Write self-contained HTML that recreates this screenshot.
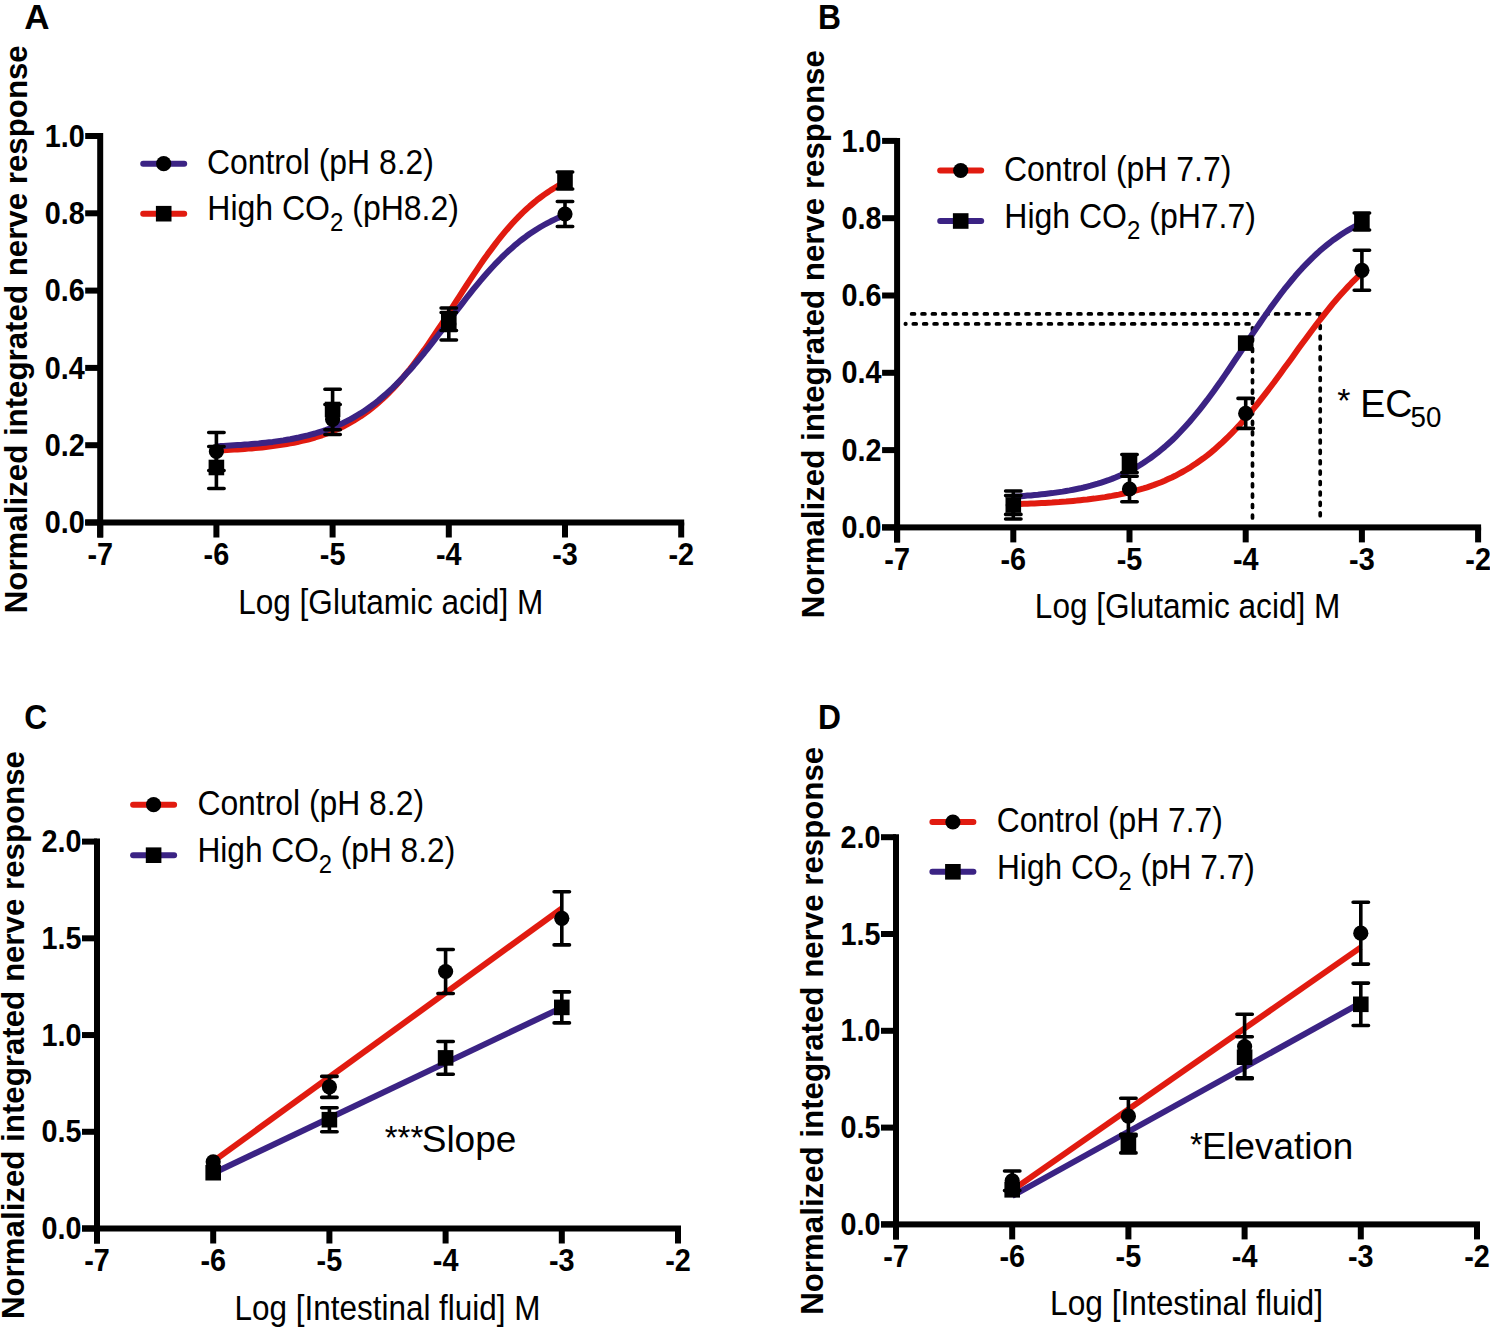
<!DOCTYPE html><html><head><meta charset="utf-8"><style>html,body{margin:0;padding:0;background:#fff;}svg{display:block;}text{font-family:"Liberation Sans",sans-serif;fill:#000;}</style></head><body>
<svg width="1490" height="1328" viewBox="0 0 1490 1328">
<rect width="1490" height="1328" fill="#fff"/>
<g id="pA">
<text transform="translate(24.3,29.2) scale(1.03,1.045)" font-size="34" font-weight="bold">A</text>
<text transform="translate(26.7,329.25) rotate(-90)" text-anchor="middle" font-size="32" font-weight="bold" textLength="568" lengthAdjust="spacingAndGlyphs">Normalized integrated nerve response</text>
<path d="M97.2 133H103.2V537.5H97.2Z" fill="#000"/>
<rect x="85.2" y="519.5" width="599" height="6" fill="#000"/>
<rect x="85.2" y="519.5" width="15" height="6" fill="#000"/>
<text transform="translate(84.7,533.1)" font-size="31" font-weight="bold" text-anchor="end" textLength="40" lengthAdjust="spacingAndGlyphs">0.0</text>
<rect x="85.2" y="442.2" width="15" height="6" fill="#000"/>
<text transform="translate(84.7,455.8)" font-size="31" font-weight="bold" text-anchor="end" textLength="40" lengthAdjust="spacingAndGlyphs">0.2</text>
<rect x="85.2" y="364.9" width="15" height="6" fill="#000"/>
<text transform="translate(84.7,378.5)" font-size="31" font-weight="bold" text-anchor="end" textLength="40" lengthAdjust="spacingAndGlyphs">0.4</text>
<rect x="85.2" y="287.6" width="15" height="6" fill="#000"/>
<text transform="translate(84.7,301.2)" font-size="31" font-weight="bold" text-anchor="end" textLength="40" lengthAdjust="spacingAndGlyphs">0.6</text>
<rect x="85.2" y="210.3" width="15" height="6" fill="#000"/>
<text transform="translate(84.7,223.9)" font-size="31" font-weight="bold" text-anchor="end" textLength="40" lengthAdjust="spacingAndGlyphs">0.8</text>
<rect x="85.2" y="133" width="15" height="6" fill="#000"/>
<text transform="translate(84.7,146.6)" font-size="31" font-weight="bold" text-anchor="end" textLength="40" lengthAdjust="spacingAndGlyphs">1.0</text>
<rect x="97.2" y="522.5" width="6" height="15" fill="#000"/>
<text transform="translate(100.2,565.1) scale(0.93,1.0)" font-size="31" font-weight="bold" text-anchor="middle">-7</text>
<rect x="213.4" y="522.5" width="6" height="15" fill="#000"/>
<text transform="translate(216.4,565.1) scale(0.93,1.0)" font-size="31" font-weight="bold" text-anchor="middle">-6</text>
<rect x="329.6" y="522.5" width="6" height="15" fill="#000"/>
<text transform="translate(332.6,565.1) scale(0.93,1.0)" font-size="31" font-weight="bold" text-anchor="middle">-5</text>
<rect x="445.8" y="522.5" width="6" height="15" fill="#000"/>
<text transform="translate(448.8,565.1) scale(0.93,1.0)" font-size="31" font-weight="bold" text-anchor="middle">-4</text>
<rect x="562" y="522.5" width="6" height="15" fill="#000"/>
<text transform="translate(565,565.1) scale(0.93,1.0)" font-size="31" font-weight="bold" text-anchor="middle">-3</text>
<rect x="678.2" y="522.5" width="6" height="15" fill="#000"/>
<text transform="translate(681.2,565.1) scale(0.93,1.0)" font-size="31" font-weight="bold" text-anchor="middle">-2</text>
<text transform="translate(390.7,613.5) scale(1.0,1.09)" font-size="31.5" text-anchor="middle" textLength="305" lengthAdjust="spacingAndGlyphs">Log [Glutamic acid] M</text>
<line x1="143.2" y1="163.7" x2="184.2" y2="163.7" stroke="#3b2384" stroke-width="6" stroke-linecap="round"/>
<circle cx="163.7" cy="163.7" r="7.6" fill="#000"/>
<text transform="translate(207,173.8) scale(1.0,1.09)" font-size="32" textLength="226.9" lengthAdjust="spacingAndGlyphs">Control (pH 8.2)</text>
<line x1="143.2" y1="213.7" x2="184.2" y2="213.7" stroke="#e11b10" stroke-width="6" stroke-linecap="round"/>
<rect x="155.9" y="205.9" width="15.6" height="15.6" fill="#000"/>
<text transform="translate(207.3,220) scale(1.0,1.09)" font-size="32">High CO<tspan font-size="24" dy="9.8">2</tspan><tspan dy="-9.8"> (pH8.2)</tspan></text>
<path d="M216.4 450.5 L219.9 450.3 L223.4 450.2 L227.0 450.0 L230.5 449.8 L234.0 449.6 L237.5 449.4 L241.0 449.2 L244.6 448.9 L248.1 448.6 L251.6 448.4 L255.1 448.0 L258.7 447.7 L262.2 447.4 L265.7 447.0 L269.2 446.6 L272.7 446.1 L276.3 445.6 L279.8 445.1 L283.3 444.6 L286.8 444.0 L290.3 443.4 L293.9 442.7 L297.4 442.0 L300.9 441.2 L304.4 440.4 L308.0 439.5 L311.5 438.5 L315.0 437.5 L318.5 436.4 L322.0 435.3 L325.6 434.0 L329.1 432.7 L332.6 431.3 L336.1 429.8 L339.6 428.2 L343.2 426.5 L346.7 424.7 L350.2 422.7 L353.7 420.7 L357.2 418.5 L360.8 416.3 L364.3 413.8 L367.8 411.3 L371.3 408.6 L374.9 405.7 L378.4 402.7 L381.9 399.6 L385.4 396.3 L388.9 392.8 L392.5 389.2 L396.0 385.4 L399.5 381.5 L403.0 377.4 L406.5 373.2 L410.1 368.8 L413.6 364.3 L417.1 359.6 L420.6 354.8 L424.2 349.9 L427.7 344.9 L431.2 339.7 L434.7 334.5 L438.2 329.2 L441.8 323.8 L445.3 318.4 L448.8 312.9 L452.3 307.4 L455.8 301.9 L459.4 296.4 L462.9 290.9 L466.4 285.5 L469.9 280.1 L473.4 274.8 L477.0 269.6 L480.5 264.4 L484.0 259.3 L487.5 254.4 L491.1 249.6 L494.6 244.9 L498.1 240.3 L501.6 235.9 L505.1 231.7 L508.7 227.5 L512.2 223.6 L515.7 219.8 L519.2 216.1 L522.7 212.6 L526.3 209.3 L529.8 206.1 L533.3 203.1 L536.8 200.2 L540.4 197.5 L543.9 194.9 L547.4 192.5 L550.9 190.1 L554.4 188.0 L558.0 185.9 L561.5 183.9 L565.0 182.1" fill="none" stroke="#e11b10" stroke-width="6" stroke-linejoin="round"/>
<path d="M216.4 446.2 L219.9 446.1 L223.4 445.9 L227.0 445.7 L230.5 445.5 L234.0 445.3 L237.5 445.1 L241.0 444.9 L244.6 444.6 L248.1 444.4 L251.6 444.1 L255.1 443.8 L258.7 443.5 L262.2 443.1 L265.7 442.7 L269.2 442.3 L272.7 441.9 L276.3 441.4 L279.8 440.9 L283.3 440.4 L286.8 439.8 L290.3 439.2 L293.9 438.5 L297.4 437.8 L300.9 437.0 L304.4 436.2 L308.0 435.4 L311.5 434.4 L315.0 433.5 L318.5 432.4 L322.0 431.3 L325.6 430.1 L329.1 428.8 L332.6 427.5 L336.1 426.0 L339.6 424.5 L343.2 422.9 L346.7 421.1 L350.2 419.3 L353.7 417.4 L357.2 415.3 L360.8 413.2 L364.3 410.9 L367.8 408.5 L371.3 406.0 L374.9 403.3 L378.4 400.6 L381.9 397.6 L385.4 394.6 L388.9 391.4 L392.5 388.1 L396.0 384.7 L399.5 381.1 L403.0 377.5 L406.5 373.6 L410.1 369.7 L413.6 365.7 L417.1 361.5 L420.6 357.3 L424.2 353.0 L427.7 348.6 L431.2 344.1 L434.7 339.6 L438.2 335.0 L441.8 330.4 L445.3 325.7 L448.8 321.1 L452.3 316.4 L455.8 311.8 L459.4 307.1 L462.9 302.6 L466.4 298.0 L469.9 293.6 L473.4 289.2 L477.0 284.8 L480.5 280.6 L484.0 276.5 L487.5 272.5 L491.1 268.5 L494.6 264.7 L498.1 261.1 L501.6 257.5 L505.1 254.1 L508.7 250.8 L512.2 247.7 L515.7 244.6 L519.2 241.7 L522.7 239.0 L526.3 236.3 L529.8 233.8 L533.3 231.5 L536.8 229.2 L540.4 227.0 L543.9 225.0 L547.4 223.1 L550.9 221.3 L554.4 219.6 L558.0 217.9 L561.5 216.4 L565.0 215.0" fill="none" stroke="#3b2384" stroke-width="6" stroke-linejoin="round"/>
<path d="M216.4 432.5V470.5M208.7 432.5H224.1M208.7 470.5H224.1" stroke="#000" stroke-width="3.6" stroke-linecap="round" fill="none"/>
<circle cx="216.4" cy="451.5" r="7.6" fill="#000"/>
<path d="M332.6 404.5V434.5M324.9 404.5H340.3M324.9 434.5H340.3" stroke="#000" stroke-width="3.6" stroke-linecap="round" fill="none"/>
<circle cx="332.6" cy="419.5" r="7.6" fill="#000"/>
<path d="M448.8 308V340M441.1 308H456.5M441.1 340H456.5" stroke="#000" stroke-width="3.6" stroke-linecap="round" fill="none"/>
<circle cx="448.8" cy="324" r="7.6" fill="#000"/>
<path d="M565 201.5V226.5M557.3 201.5H572.7M557.3 226.5H572.7" stroke="#000" stroke-width="3.6" stroke-linecap="round" fill="none"/>
<circle cx="565" cy="214" r="7.6" fill="#000"/>
<path d="M216.4 446.5V488.5M208.7 446.5H224.1M208.7 488.5H224.1" stroke="#000" stroke-width="3.6" stroke-linecap="round" fill="none"/>
<rect x="208.6" y="459.7" width="15.6" height="15.6" fill="#000"/>
<path d="M332.6 389.2V429.8M324.9 389.2H340.3M324.9 429.8H340.3" stroke="#000" stroke-width="3.6" stroke-linecap="round" fill="none"/>
<rect x="324.8" y="401.7" width="15.6" height="15.6" fill="#000"/>
<path d="M448.8 312.5V330.5M441.1 312.5H456.5M441.1 330.5H456.5" stroke="#000" stroke-width="3.6" stroke-linecap="round" fill="none"/>
<rect x="441" y="313.7" width="15.6" height="15.6" fill="#000"/>
<path d="M565 172V189M557.3 172H572.7M557.3 189H572.7" stroke="#000" stroke-width="3.6" stroke-linecap="round" fill="none"/>
<rect x="557.2" y="172.7" width="15.6" height="15.6" fill="#000"/>
</g>
<g id="pB">
<text transform="translate(818,29.3) scale(0.935,1.045)" font-size="34" font-weight="bold">B</text>
<text transform="translate(823.6,334.15) rotate(-90)" text-anchor="middle" font-size="32" font-weight="bold" textLength="568" lengthAdjust="spacingAndGlyphs">Normalized integrated nerve response</text>
<path d="M894.1 137.9H900.1V542.4H894.1Z" fill="#000"/>
<rect x="882.1" y="524.4" width="599" height="6" fill="#000"/>
<rect x="882.1" y="524.4" width="15" height="6" fill="#000"/>
<text transform="translate(881.6,538)" font-size="31" font-weight="bold" text-anchor="end" textLength="40" lengthAdjust="spacingAndGlyphs">0.0</text>
<rect x="882.1" y="447.1" width="15" height="6" fill="#000"/>
<text transform="translate(881.6,460.7)" font-size="31" font-weight="bold" text-anchor="end" textLength="40" lengthAdjust="spacingAndGlyphs">0.2</text>
<rect x="882.1" y="369.8" width="15" height="6" fill="#000"/>
<text transform="translate(881.6,383.4)" font-size="31" font-weight="bold" text-anchor="end" textLength="40" lengthAdjust="spacingAndGlyphs">0.4</text>
<rect x="882.1" y="292.5" width="15" height="6" fill="#000"/>
<text transform="translate(881.6,306.1)" font-size="31" font-weight="bold" text-anchor="end" textLength="40" lengthAdjust="spacingAndGlyphs">0.6</text>
<rect x="882.1" y="215.2" width="15" height="6" fill="#000"/>
<text transform="translate(881.6,228.8)" font-size="31" font-weight="bold" text-anchor="end" textLength="40" lengthAdjust="spacingAndGlyphs">0.8</text>
<rect x="882.1" y="137.9" width="15" height="6" fill="#000"/>
<text transform="translate(881.6,151.5)" font-size="31" font-weight="bold" text-anchor="end" textLength="40" lengthAdjust="spacingAndGlyphs">1.0</text>
<rect x="894.1" y="527.4" width="6" height="15" fill="#000"/>
<text transform="translate(897.1,570) scale(0.93,1.0)" font-size="31" font-weight="bold" text-anchor="middle">-7</text>
<rect x="1010.3" y="527.4" width="6" height="15" fill="#000"/>
<text transform="translate(1013.3,570) scale(0.93,1.0)" font-size="31" font-weight="bold" text-anchor="middle">-6</text>
<rect x="1126.5" y="527.4" width="6" height="15" fill="#000"/>
<text transform="translate(1129.5,570) scale(0.93,1.0)" font-size="31" font-weight="bold" text-anchor="middle">-5</text>
<rect x="1242.7" y="527.4" width="6" height="15" fill="#000"/>
<text transform="translate(1245.7,570) scale(0.93,1.0)" font-size="31" font-weight="bold" text-anchor="middle">-4</text>
<rect x="1358.9" y="527.4" width="6" height="15" fill="#000"/>
<text transform="translate(1361.9,570) scale(0.93,1.0)" font-size="31" font-weight="bold" text-anchor="middle">-3</text>
<rect x="1475.1" y="527.4" width="6" height="15" fill="#000"/>
<text transform="translate(1478.1,570) scale(0.93,1.0)" font-size="31" font-weight="bold" text-anchor="middle">-2</text>
<text transform="translate(1187.6,618.4) scale(1.0,1.09)" font-size="31.5" text-anchor="middle" textLength="305.5" lengthAdjust="spacingAndGlyphs">Log [Glutamic acid] M</text>
<line x1="940.2" y1="170.5" x2="981.2" y2="170.5" stroke="#e11b10" stroke-width="6" stroke-linecap="round"/>
<circle cx="960.7" cy="170.5" r="7.6" fill="#000"/>
<text transform="translate(1004,181.1) scale(1.0,1.09)" font-size="32" textLength="227.4" lengthAdjust="spacingAndGlyphs">Control (pH 7.7)</text>
<line x1="940.2" y1="221" x2="981.2" y2="221" stroke="#3b2384" stroke-width="6" stroke-linecap="round"/>
<rect x="952.9" y="213.2" width="15.6" height="15.6" fill="#000"/>
<text transform="translate(1004.3,228.1) scale(1.0,1.09)" font-size="32">High CO<tspan font-size="24" dy="9.8">2</tspan><tspan dy="-9.8"> (pH7.7)</tspan></text>
<path d="M911.6 313.9H1320.3" stroke="#000" stroke-width="3.7" stroke-dasharray="2.9 7.5" stroke-linecap="round" fill="none"/>
<path d="M913.3 323.9H1251.8" stroke="#000" stroke-width="3.7" stroke-dasharray="2.9 7.5" stroke-linecap="round" fill="none"/>
<circle cx="905.6" cy="323.9" r="2.1" fill="#000"/>
<path d="M1252.5 517.9V324" stroke="#000" stroke-width="3.7" stroke-dasharray="2.9 7.5" stroke-linecap="round" fill="none"/>
<path d="M1320.2 515.7V314" stroke="#000" stroke-width="3.7" stroke-dasharray="2.9 7.5" stroke-linecap="round" fill="none"/>
<text transform="translate(1337.3,411.9)" font-size="34">*</text>
<text transform="translate(1360.2,416.5) scale(1.0,1.01)" font-size="37.6">EC</text>
<text transform="translate(1410.6,426.8) scale(1.0,1.06)" font-size="27.7">50</text>
<path d="M1013.3 504.1 L1016.8 504.0 L1020.3 503.9 L1023.9 503.8 L1027.4 503.7 L1030.9 503.5 L1034.4 503.4 L1037.9 503.2 L1041.5 503.0 L1045.0 502.9 L1048.5 502.7 L1052.0 502.5 L1055.6 502.2 L1059.1 502.0 L1062.6 501.7 L1066.1 501.5 L1069.6 501.2 L1073.2 500.9 L1076.7 500.6 L1080.2 500.2 L1083.7 499.8 L1087.2 499.5 L1090.8 499.0 L1094.3 498.6 L1097.8 498.1 L1101.3 497.6 L1104.9 497.1 L1108.4 496.5 L1111.9 495.9 L1115.4 495.2 L1118.9 494.6 L1122.5 493.8 L1126.0 493.1 L1129.5 492.2 L1133.0 491.3 L1136.5 490.4 L1140.1 489.4 L1143.6 488.4 L1147.1 487.3 L1150.6 486.1 L1154.1 484.9 L1157.7 483.5 L1161.2 482.2 L1164.7 480.7 L1168.2 479.1 L1171.8 477.5 L1175.3 475.8 L1178.8 473.9 L1182.3 472.0 L1185.8 470.0 L1189.4 467.9 L1192.9 465.6 L1196.4 463.3 L1199.9 460.8 L1203.4 458.3 L1207.0 455.6 L1210.5 452.8 L1214.0 449.9 L1217.5 446.8 L1221.1 443.6 L1224.6 440.3 L1228.1 436.9 L1231.6 433.4 L1235.1 429.7 L1238.7 425.9 L1242.2 422.0 L1245.7 418.0 L1249.2 413.9 L1252.7 409.7 L1256.3 405.4 L1259.8 400.9 L1263.3 396.4 L1266.8 391.9 L1270.3 387.2 L1273.9 382.5 L1277.4 377.7 L1280.9 372.9 L1284.4 368.1 L1288.0 363.2 L1291.5 358.4 L1295.0 353.5 L1298.5 348.6 L1302.0 343.8 L1305.6 339.0 L1309.1 334.2 L1312.6 329.5 L1316.1 324.9 L1319.6 320.3 L1323.2 315.8 L1326.7 311.3 L1330.2 307.0 L1333.7 302.7 L1337.3 298.6 L1340.8 294.6 L1344.3 290.7 L1347.8 286.9 L1351.3 283.2 L1354.9 279.6 L1358.4 276.2 L1361.9 272.9" fill="none" stroke="#e11b10" stroke-width="6" stroke-linejoin="round"/>
<path d="M1013.3 496.7 L1016.8 496.4 L1020.3 496.2 L1023.9 495.9 L1027.4 495.6 L1030.9 495.4 L1034.4 495.0 L1037.9 494.7 L1041.5 494.3 L1045.0 493.9 L1048.5 493.5 L1052.0 493.1 L1055.6 492.6 L1059.1 492.1 L1062.6 491.6 L1066.1 491.0 L1069.6 490.4 L1073.2 489.7 L1076.7 489.0 L1080.2 488.3 L1083.7 487.5 L1087.2 486.6 L1090.8 485.7 L1094.3 484.7 L1097.8 483.7 L1101.3 482.6 L1104.9 481.4 L1108.4 480.2 L1111.9 478.9 L1115.4 477.5 L1118.9 476.0 L1122.5 474.4 L1126.0 472.7 L1129.5 470.9 L1133.0 469.1 L1136.5 467.1 L1140.1 465.0 L1143.6 462.8 L1147.1 460.4 L1150.6 458.0 L1154.1 455.4 L1157.7 452.7 L1161.2 449.8 L1164.7 446.9 L1168.2 443.7 L1171.8 440.5 L1175.3 437.1 L1178.8 433.5 L1182.3 429.8 L1185.8 426.0 L1189.4 422.0 L1192.9 417.9 L1196.4 413.7 L1199.9 409.3 L1203.4 404.8 L1207.0 400.2 L1210.5 395.5 L1214.0 390.7 L1217.5 385.7 L1221.1 380.7 L1224.6 375.6 L1228.1 370.5 L1231.6 365.3 L1235.1 360.0 L1238.7 354.8 L1242.2 349.5 L1245.7 344.2 L1249.2 338.9 L1252.7 333.6 L1256.3 328.4 L1259.8 323.2 L1263.3 318.1 L1266.8 313.1 L1270.3 308.1 L1273.9 303.2 L1277.4 298.5 L1280.9 293.8 L1284.4 289.2 L1288.0 284.8 L1291.5 280.5 L1295.0 276.3 L1298.5 272.3 L1302.0 268.4 L1305.6 264.7 L1309.1 261.1 L1312.6 257.6 L1316.1 254.3 L1319.6 251.1 L1323.2 248.0 L1326.7 245.1 L1330.2 242.3 L1333.7 239.7 L1337.3 237.2 L1340.8 234.8 L1344.3 232.5 L1347.8 230.4 L1351.3 228.4 L1354.9 226.4 L1358.4 224.6 L1361.9 222.9" fill="none" stroke="#3b2384" stroke-width="6" stroke-linejoin="round"/>
<path d="M1013.3 491V519M1005.6 491H1021M1005.6 519H1021" stroke="#000" stroke-width="3.6" stroke-linecap="round" fill="none"/>
<circle cx="1013.3" cy="505" r="7.6" fill="#000"/>
<path d="M1129.5 476.2V501.8M1121.8 476.2H1137.2M1121.8 501.8H1137.2" stroke="#000" stroke-width="3.6" stroke-linecap="round" fill="none"/>
<circle cx="1129.5" cy="489" r="7.6" fill="#000"/>
<path d="M1245.7 398.4V428.4M1238 398.4H1253.4M1238 428.4H1253.4" stroke="#000" stroke-width="3.6" stroke-linecap="round" fill="none"/>
<circle cx="1245.7" cy="413.4" r="7.6" fill="#000"/>
<path d="M1361.9 250.3V290.3M1354.2 250.3H1369.6M1354.2 290.3H1369.6" stroke="#000" stroke-width="3.6" stroke-linecap="round" fill="none"/>
<circle cx="1361.9" cy="270.3" r="7.6" fill="#000"/>
<path d="M1013.3 495.6V514.4M1005.6 495.6H1021M1005.6 514.4H1021" stroke="#000" stroke-width="3.6" stroke-linecap="round" fill="none"/>
<rect x="1005.5" y="497.2" width="15.6" height="15.6" fill="#000"/>
<path d="M1129.5 454.5V472.5M1121.8 454.5H1137.2M1121.8 472.5H1137.2" stroke="#000" stroke-width="3.6" stroke-linecap="round" fill="none"/>
<rect x="1121.7" y="455.7" width="15.6" height="15.6" fill="#000"/>
<rect x="1237.9" y="335.3" width="15.6" height="15.6" fill="#000"/>
<path d="M1361.9 213V230M1354.2 213H1369.6M1354.2 230H1369.6" stroke="#000" stroke-width="3.6" stroke-linecap="round" fill="none"/>
<rect x="1354.1" y="213.7" width="15.6" height="15.6" fill="#000"/>
</g>
<g id="pC">
<text transform="translate(24.3,728.7) scale(0.935,1.045)" font-size="34" font-weight="bold">C</text>
<text transform="translate(23.5,1035.05) rotate(-90)" text-anchor="middle" font-size="32" font-weight="bold" textLength="568" lengthAdjust="spacingAndGlyphs">Normalized integrated nerve response</text>
<path d="M94 838.6H100V1243.5H94Z" fill="#000"/>
<rect x="82" y="1225.5" width="599" height="6" fill="#000"/>
<rect x="82" y="1225.5" width="15" height="6" fill="#000"/>
<text transform="translate(81.5,1239.1)" font-size="31" font-weight="bold" text-anchor="end" textLength="40" lengthAdjust="spacingAndGlyphs">0.0</text>
<rect x="82" y="1128.78" width="15" height="6" fill="#000"/>
<text transform="translate(81.5,1142.38)" font-size="31" font-weight="bold" text-anchor="end" textLength="40" lengthAdjust="spacingAndGlyphs">0.5</text>
<rect x="82" y="1032.05" width="15" height="6" fill="#000"/>
<text transform="translate(81.5,1045.65)" font-size="31" font-weight="bold" text-anchor="end" textLength="40" lengthAdjust="spacingAndGlyphs">1.0</text>
<rect x="82" y="935.33" width="15" height="6" fill="#000"/>
<text transform="translate(81.5,948.93)" font-size="31" font-weight="bold" text-anchor="end" textLength="40" lengthAdjust="spacingAndGlyphs">1.5</text>
<rect x="82" y="838.6" width="15" height="6" fill="#000"/>
<text transform="translate(81.5,852.2)" font-size="31" font-weight="bold" text-anchor="end" textLength="40" lengthAdjust="spacingAndGlyphs">2.0</text>
<rect x="94" y="1228.5" width="6" height="15" fill="#000"/>
<text transform="translate(97,1271.1) scale(0.93,1.0)" font-size="31" font-weight="bold" text-anchor="middle">-7</text>
<rect x="210.2" y="1228.5" width="6" height="15" fill="#000"/>
<text transform="translate(213.2,1271.1) scale(0.93,1.0)" font-size="31" font-weight="bold" text-anchor="middle">-6</text>
<rect x="326.4" y="1228.5" width="6" height="15" fill="#000"/>
<text transform="translate(329.4,1271.1) scale(0.93,1.0)" font-size="31" font-weight="bold" text-anchor="middle">-5</text>
<rect x="442.6" y="1228.5" width="6" height="15" fill="#000"/>
<text transform="translate(445.6,1271.1) scale(0.93,1.0)" font-size="31" font-weight="bold" text-anchor="middle">-4</text>
<rect x="558.8" y="1228.5" width="6" height="15" fill="#000"/>
<text transform="translate(561.8,1271.1) scale(0.93,1.0)" font-size="31" font-weight="bold" text-anchor="middle">-3</text>
<rect x="675" y="1228.5" width="6" height="15" fill="#000"/>
<text transform="translate(678,1271.1) scale(0.93,1.0)" font-size="31" font-weight="bold" text-anchor="middle">-2</text>
<text transform="translate(387.5,1319.5) scale(1.0,1.09)" font-size="31.5" text-anchor="middle" textLength="306" lengthAdjust="spacingAndGlyphs">Log [Intestinal fluid] M</text>
<line x1="133.1" y1="804.7" x2="174.1" y2="804.7" stroke="#e11b10" stroke-width="6" stroke-linecap="round"/>
<circle cx="153.6" cy="804.7" r="7.6" fill="#000"/>
<text transform="translate(197.4,815.2) scale(1.0,1.09)" font-size="32" textLength="226.6" lengthAdjust="spacingAndGlyphs">Control (pH 8.2)</text>
<line x1="133.1" y1="855.2" x2="174.1" y2="855.2" stroke="#3b2384" stroke-width="6" stroke-linecap="round"/>
<rect x="145.8" y="847.4" width="15.6" height="15.6" fill="#000"/>
<text transform="translate(197.4,862.2) scale(0.99,1.09)" font-size="32">High CO<tspan font-size="24" dy="9.8">2</tspan><tspan dy="-9.8"> (pH 8.2)</tspan></text>
<text transform="translate(384.7,1148.8)" font-size="33">***</text>
<text transform="translate(421.7,1151.7)" font-size="37">Slope</text>
<line x1="213.2" y1="1161.4" x2="561.8" y2="908.5" stroke="#e11b10" stroke-width="6"/>
<line x1="213.2" y1="1173.2" x2="561.8" y2="1007.6" stroke="#3b2384" stroke-width="6"/>
<circle cx="213.2" cy="1161.8" r="7.6" fill="#000"/>
<path d="M329.4 1076.4V1097.4M321.7 1076.4H337.1M321.7 1097.4H337.1" stroke="#000" stroke-width="3.6" stroke-linecap="round" fill="none"/>
<circle cx="329.4" cy="1086.9" r="7.6" fill="#000"/>
<path d="M445.6 949.5V993.5M437.9 949.5H453.3M437.9 993.5H453.3" stroke="#000" stroke-width="3.6" stroke-linecap="round" fill="none"/>
<circle cx="445.6" cy="971.5" r="7.6" fill="#000"/>
<path d="M561.8 891.7V944.9M554.1 891.7H569.5M554.1 944.9H569.5" stroke="#000" stroke-width="3.6" stroke-linecap="round" fill="none"/>
<circle cx="561.8" cy="918.3" r="7.6" fill="#000"/>
<rect x="205.4" y="1164.9" width="15.6" height="15.6" fill="#000"/>
<path d="M329.4 1107.7V1131.7M321.7 1107.7H337.1M321.7 1131.7H337.1" stroke="#000" stroke-width="3.6" stroke-linecap="round" fill="none"/>
<rect x="321.6" y="1111.9" width="15.6" height="15.6" fill="#000"/>
<path d="M445.6 1041.5V1074.3M437.9 1041.5H453.3M437.9 1074.3H453.3" stroke="#000" stroke-width="3.6" stroke-linecap="round" fill="none"/>
<rect x="437.8" y="1050.1" width="15.6" height="15.6" fill="#000"/>
<path d="M561.8 991.9V1022.9M554.1 991.9H569.5M554.1 1022.9H569.5" stroke="#000" stroke-width="3.6" stroke-linecap="round" fill="none"/>
<rect x="554" y="999.6" width="15.6" height="15.6" fill="#000"/>
</g>
<g id="pD">
<text transform="translate(818,728.7) scale(0.935,1.045)" font-size="34" font-weight="bold">D</text>
<text transform="translate(822.5,1030.8) rotate(-90)" text-anchor="middle" font-size="32" font-weight="bold" textLength="568" lengthAdjust="spacingAndGlyphs">Normalized integrated nerve response</text>
<path d="M893 834.2H899V1239.4H893Z" fill="#000"/>
<rect x="881" y="1221.4" width="599" height="6" fill="#000"/>
<rect x="881" y="1221.4" width="15" height="6" fill="#000"/>
<text transform="translate(880.5,1235)" font-size="31" font-weight="bold" text-anchor="end" textLength="40" lengthAdjust="spacingAndGlyphs">0.0</text>
<rect x="881" y="1124.6" width="15" height="6" fill="#000"/>
<text transform="translate(880.5,1138.2)" font-size="31" font-weight="bold" text-anchor="end" textLength="40" lengthAdjust="spacingAndGlyphs">0.5</text>
<rect x="881" y="1027.8" width="15" height="6" fill="#000"/>
<text transform="translate(880.5,1041.4)" font-size="31" font-weight="bold" text-anchor="end" textLength="40" lengthAdjust="spacingAndGlyphs">1.0</text>
<rect x="881" y="931" width="15" height="6" fill="#000"/>
<text transform="translate(880.5,944.6)" font-size="31" font-weight="bold" text-anchor="end" textLength="40" lengthAdjust="spacingAndGlyphs">1.5</text>
<rect x="881" y="834.2" width="15" height="6" fill="#000"/>
<text transform="translate(880.5,847.8)" font-size="31" font-weight="bold" text-anchor="end" textLength="40" lengthAdjust="spacingAndGlyphs">2.0</text>
<rect x="893" y="1224.4" width="6" height="15" fill="#000"/>
<text transform="translate(896,1267) scale(0.93,1.0)" font-size="31" font-weight="bold" text-anchor="middle">-7</text>
<rect x="1009.2" y="1224.4" width="6" height="15" fill="#000"/>
<text transform="translate(1012.2,1267) scale(0.93,1.0)" font-size="31" font-weight="bold" text-anchor="middle">-6</text>
<rect x="1125.4" y="1224.4" width="6" height="15" fill="#000"/>
<text transform="translate(1128.4,1267) scale(0.93,1.0)" font-size="31" font-weight="bold" text-anchor="middle">-5</text>
<rect x="1241.6" y="1224.4" width="6" height="15" fill="#000"/>
<text transform="translate(1244.6,1267) scale(0.93,1.0)" font-size="31" font-weight="bold" text-anchor="middle">-4</text>
<rect x="1357.8" y="1224.4" width="6" height="15" fill="#000"/>
<text transform="translate(1360.8,1267) scale(0.93,1.0)" font-size="31" font-weight="bold" text-anchor="middle">-3</text>
<rect x="1474" y="1224.4" width="6" height="15" fill="#000"/>
<text transform="translate(1477,1267) scale(0.93,1.0)" font-size="31" font-weight="bold" text-anchor="middle">-2</text>
<text transform="translate(1186.5,1315.4) scale(1.0,1.09)" font-size="31.5" text-anchor="middle" textLength="273" lengthAdjust="spacingAndGlyphs">Log [Intestinal fluid]</text>
<line x1="932.4" y1="822" x2="973.4" y2="822" stroke="#e11b10" stroke-width="6" stroke-linecap="round"/>
<circle cx="952.9" cy="822" r="7.6" fill="#000"/>
<text transform="translate(996.7,832.1) scale(1.0,1.09)" font-size="32" textLength="226.2" lengthAdjust="spacingAndGlyphs">Control (pH 7.7)</text>
<line x1="932.4" y1="871.8" x2="973.4" y2="871.8" stroke="#3b2384" stroke-width="6" stroke-linecap="round"/>
<rect x="945.1" y="864" width="15.6" height="15.6" fill="#000"/>
<text transform="translate(997,879.1) scale(0.99,1.09)" font-size="32">High CO<tspan font-size="24" dy="9.8">2</tspan><tspan dy="-9.8"> (pH 7.7)</tspan></text>
<text transform="translate(1190,1155.8)" font-size="33">*</text>
<text transform="translate(1201.9,1159.3)" font-size="36.8">Elevation</text>
<line x1="1012.2" y1="1190.3" x2="1360.8" y2="947.4" stroke="#e11b10" stroke-width="6"/>
<line x1="1012.2" y1="1196.0" x2="1360.8" y2="1002.9" stroke="#3b2384" stroke-width="6"/>
<path d="M1012.2 1171V1190.6M1004.5 1171H1019.9M1004.5 1190.6H1019.9" stroke="#000" stroke-width="3.6" stroke-linecap="round" fill="none"/>
<circle cx="1012.2" cy="1180.8" r="7.6" fill="#000"/>
<path d="M1128.4 1098.2V1134.2M1120.7 1098.2H1136.1M1120.7 1134.2H1136.1" stroke="#000" stroke-width="3.6" stroke-linecap="round" fill="none"/>
<circle cx="1128.4" cy="1116.2" r="7.6" fill="#000"/>
<path d="M1244.6 1014.2V1078.8M1236.9 1014.2H1252.3M1236.9 1078.8H1252.3" stroke="#000" stroke-width="3.6" stroke-linecap="round" fill="none"/>
<circle cx="1244.6" cy="1046.5" r="7.6" fill="#000"/>
<path d="M1360.8 902.3V964.1M1353.1 902.3H1368.5M1353.1 964.1H1368.5" stroke="#000" stroke-width="3.6" stroke-linecap="round" fill="none"/>
<circle cx="1360.8" cy="933.2" r="7.6" fill="#000"/>
<rect x="1004.4" y="1182" width="15.6" height="15.6" fill="#000"/>
<path d="M1128.4 1135.9V1152.9M1120.7 1135.9H1136.1M1120.7 1152.9H1136.1" stroke="#000" stroke-width="3.6" stroke-linecap="round" fill="none"/>
<rect x="1120.6" y="1136.6" width="15.6" height="15.6" fill="#000"/>
<path d="M1244.6 1036.7V1077.7M1236.9 1036.7H1252.3M1236.9 1077.7H1252.3" stroke="#000" stroke-width="3.6" stroke-linecap="round" fill="none"/>
<rect x="1236.8" y="1049.4" width="15.6" height="15.6" fill="#000"/>
<path d="M1360.8 983.1V1025.5M1353.1 983.1H1368.5M1353.1 1025.5H1368.5" stroke="#000" stroke-width="3.6" stroke-linecap="round" fill="none"/>
<rect x="1353" y="996.5" width="15.6" height="15.6" fill="#000"/>
</g>
</svg></body></html>
